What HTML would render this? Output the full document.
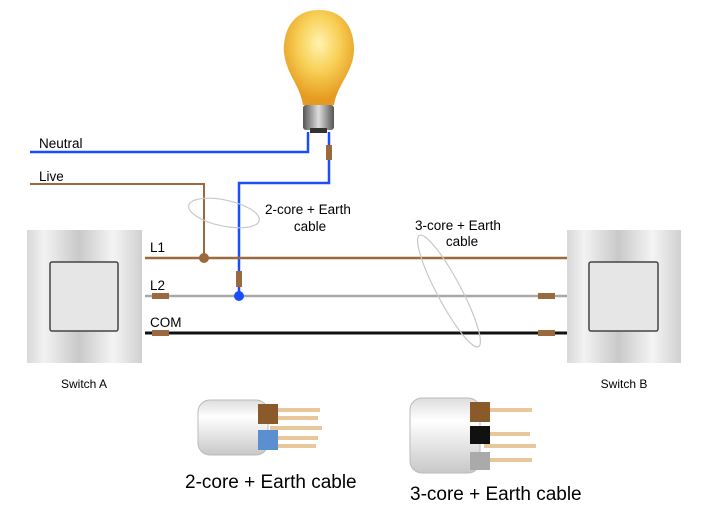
<!DOCTYPE html>
<html><head><meta charset="utf-8"><style>
html,body{margin:0;padding:0;background:#fff;}
svg{display:block;font-family:"Liberation Sans",Arial,sans-serif;}
</style></head><body>
<svg width="704" height="523" viewBox="0 0 704 523" xmlns="http://www.w3.org/2000/svg">
<defs>
<linearGradient id="sw" x1="0" x2="1" y1="0" y2="0">
<stop offset="0" stop-color="#d8d8d8"/><stop offset="0.15" stop-color="#f2f2f2"/><stop offset="0.45" stop-color="#c9c9c9"/><stop offset="0.75" stop-color="#f4f4f4"/><stop offset="1" stop-color="#d0d0d0"/>
</linearGradient>
<radialGradient id="bulb" cx="0.5" cy="0.35" r="0.6">
<stop offset="0" stop-color="#fff3b0"/><stop offset="0.5" stop-color="#f8cf55"/><stop offset="1" stop-color="#e59a20"/>
</radialGradient>
<linearGradient id="base" x1="0" x2="1"><stop offset="0" stop-color="#555"/><stop offset="0.5" stop-color="#ddd"/><stop offset="1" stop-color="#555"/></linearGradient>
<linearGradient id="cab" x1="0" x2="0" y1="0" y2="1"><stop offset="0" stop-color="#ddd"/><stop offset="0.3" stop-color="#fff"/><stop offset="1" stop-color="#c8c8c8"/></linearGradient>
</defs>

<path d="M319 10 C292 10 283 32 284 52 C286 74 300 85 303 105 L334 105 C337 85 352 74 354 52 C355 32 346 10 319 10Z" fill="url(#bulb)"/>
<rect x="303" y="105" width="31" height="25" rx="3" fill="url(#base)"/>
<rect x="310" y="128" width="17" height="5" fill="#333"/>

<polyline points="30,152 308,152 308,132" fill="none" stroke="#1a4dff" stroke-width="2.5"/>
<polyline points="239,296 239,183 329,183 329,132" fill="none" stroke="#1a4dff" stroke-width="2.5"/>
<polyline points="30,184 204,184 204,258" fill="none" stroke="#9a6a3e" stroke-width="2"/>
<line x1="145" y1="258" x2="567" y2="258" stroke="#9a6a3e" stroke-width="2.5"/>
<line x1="145" y1="296" x2="567" y2="296" stroke="#a8a8a8" stroke-width="2.5"/>
<line x1="145" y1="333" x2="567" y2="333" stroke="#111" stroke-width="3"/>
<circle cx="204" cy="258" r="5" fill="#9a6a3e"/>
<circle cx="239" cy="296" r="5" fill="#1a4dff"/>
<rect x="326" y="145" width="6" height="15" fill="#9a6a3e"/>
<rect x="236" y="271" width="6" height="16" fill="#9a6a3e"/>
<rect x="152" y="293" width="17" height="6" fill="#9a6a3e"/>
<rect x="152" y="330" width="17" height="6" fill="#9a6a3e"/>
<rect x="538" y="293" width="17" height="6" fill="#9a6a3e"/>
<rect x="538" y="330" width="17" height="6" fill="#9a6a3e"/>

<ellipse cx="224" cy="213" rx="36" ry="13" transform="rotate(12 224 213)" fill="none" stroke="#c8c8c8" stroke-width="1.2"/>
<ellipse cx="449" cy="291" rx="12" ry="63" transform="rotate(-28 449 291)" fill="none" stroke="#c8c8c8" stroke-width="1.2"/>

<rect x="27" y="230" width="115" height="133" fill="url(#sw)"/>
<rect x="50" y="262" width="68" height="69" rx="2" fill="#e6e6e6" stroke="#444" stroke-width="1.5"/>
<rect x="567" y="230" width="114" height="133" fill="url(#sw)"/>
<rect x="589" y="262" width="69" height="69" rx="2" fill="#e6e6e6" stroke="#444" stroke-width="1.5"/>

<g font-size="13.5" fill="#000">
<text x="39" y="148">Neutral</text>
<text x="39" y="181">Live</text>
<text x="150" y="252">L1</text>
<text x="150" y="290">L2</text>
<text x="150" y="327">COM</text>
<text x="265" y="214">2-core + Earth</text>
<text x="310" y="231" text-anchor="middle">cable</text>
<text x="415" y="230">3-core + Earth</text>
<text x="462" y="246" text-anchor="middle">cable</text>
<text x="84" y="388" text-anchor="middle" font-size="12">Switch A</text>
<text x="624" y="388" text-anchor="middle" font-size="12">Switch B</text>
</g>

<rect x="198" y="400" width="70" height="55" rx="12" fill="url(#cab)" stroke="#bbb"/>
<rect x="258" y="404" width="20" height="20" fill="#8a5a2a"/>
<rect x="258" y="430" width="20" height="20" fill="#5b8fd0"/>
<g stroke="#e8c89a" stroke-width="4"><line x1="278" y1="410" x2="320" y2="410"/><line x1="278" y1="418" x2="318" y2="418"/><line x1="270" y1="428" x2="322" y2="428"/><line x1="278" y1="438" x2="318" y2="438"/><line x1="278" y1="446" x2="316" y2="446"/></g>
<rect x="410" y="398" width="70" height="75" rx="12" fill="url(#cab)" stroke="#bbb"/>
<rect x="470" y="402" width="20" height="20" fill="#8a5a2a"/>
<rect x="470" y="426" width="20" height="18" fill="#111"/>
<rect x="470" y="452" width="20" height="18" fill="#aaa"/>
<g stroke="#e8c89a" stroke-width="4"><line x1="490" y1="410" x2="532" y2="410"/><line x1="490" y1="434" x2="530" y2="434"/><line x1="484" y1="446" x2="536" y2="446"/><line x1="490" y1="460" x2="532" y2="460"/></g>

<text x="185" y="488" font-size="19">2-core + Earth cable</text>
<text x="410" y="500" font-size="19">3-core + Earth cable</text>
</svg>
</body></html>
